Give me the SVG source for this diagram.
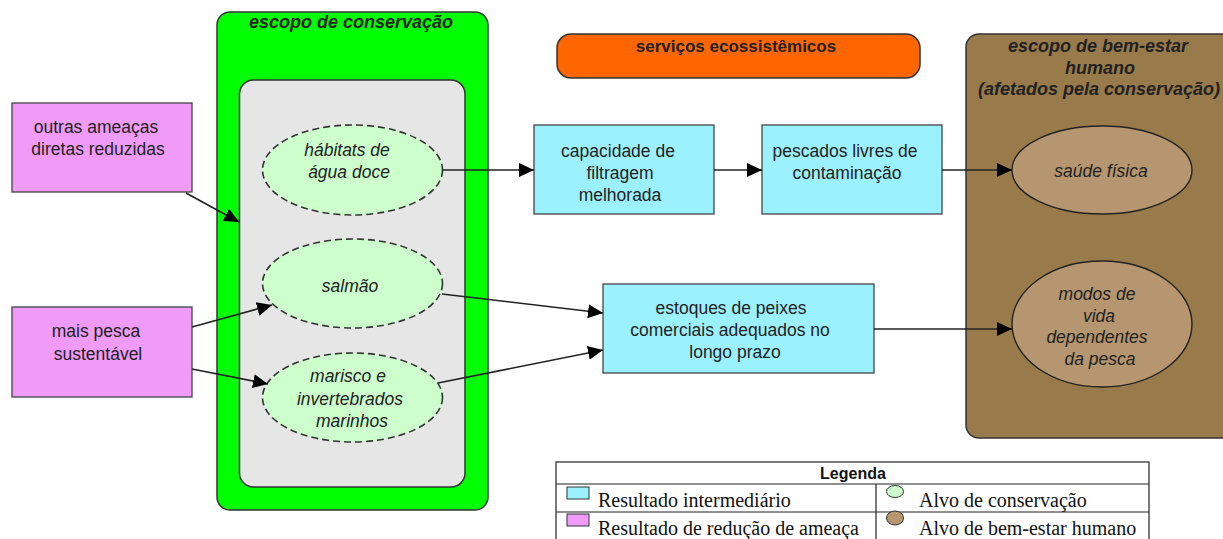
<svg xmlns="http://www.w3.org/2000/svg" width="1223" height="539" viewBox="0 0 1223 539">
<style>
text{font-family:"Liberation Sans",Arial,sans-serif;fill:#222;}
.body{font-size:17.5px;text-anchor:middle;}
.it{font-size:17.5px;font-style:italic;text-anchor:middle;}
.title{font-size:18px;font-weight:bold;font-style:italic;text-anchor:middle;}
.pink{fill:#F19BF9;stroke:#444;stroke-width:1.3;}
.cyan{fill:#9CF1FE;stroke:#444;stroke-width:1.3;}
.cons{fill:#CCFFCC;stroke:#333;stroke-width:1.6;stroke-dasharray:7 4;}
.hw{fill:#B59670;stroke:#222;stroke-width:1.4;}
.conn line{stroke:#222;stroke-width:1.6;marker-end:url(#arr);}
.leg{font-family:"Liberation Serif","Times New Roman",serif;font-size:20px;fill:#111;}
</style>
<defs>
<marker id="arr" markerUnits="userSpaceOnUse" markerWidth="16" markerHeight="16" refX="15" refY="8" orient="auto">
<path d="M0,1 L15,8 L0,15 Z" fill="#000"/>
</marker>
</defs>
<rect width="1223" height="539" fill="#fff"/>

<g id="scope-conservation">
<rect x="217" y="12" width="271" height="498" rx="13" fill="#00FF00" stroke="#333" stroke-width="1.5"/>
<text class="title" x="351" y="28">escopo de conservação</text>
<rect x="239.5" y="80" width="225.5" height="407" rx="14" fill="#E6E6E6" stroke="#333" stroke-width="1.5"/>
</g>

<g id="ecosystem-services">
<rect x="557" y="34" width="363" height="44" rx="14" fill="#FF6600" stroke="#333" stroke-width="1.5"/>
<text x="736" y="52" style="font-size:17px;font-weight:bold;text-anchor:middle">serviços ecossistêmicos</text>
</g>

<g id="scope-wellbeing">
<rect x="966" y="34" width="280" height="404" rx="13" fill="#997A4A" stroke="#333" stroke-width="1.5"/>
<text class="title" x="1098" y="52">escopo de bem-estar</text>
<text class="title" x="1100" y="74">humano</text>
<text class="title" x="1099" y="95">(afetados pela conservação)</text>
</g>

<g id="node-outras">
<rect class="pink" x="12" y="103" width="180" height="89"/>
<text class="body" x="96" y="133">outras ameaças</text>
<text class="body" x="98" y="155">diretas reduzidas</text>
</g>

<g id="node-mais-pesca">
<rect class="pink" x="12" y="307" width="180" height="90"/>
<text class="body" x="96" y="337">mais pesca</text>
<text class="body" x="98" y="360">sustentável</text>
</g>

<g id="node-habitats">
<ellipse class="cons" cx="352.5" cy="170" rx="90" ry="45"/>
<text class="it" x="347" y="156">hábitats de</text>
<text class="it" x="349" y="178">água doce</text>
</g>

<g id="node-salmao">
<ellipse class="cons" cx="352.5" cy="283.5" rx="90" ry="44.5"/>
<text class="it" x="350" y="292">salmão</text>
</g>

<g id="node-marisco">
<ellipse class="cons" cx="352.5" cy="397.5" rx="90" ry="44.5"/>
<text class="it" x="348" y="382">marisco e</text>
<text class="it" x="350" y="405">invertebrados</text>
<text class="it" x="352" y="427">marinhos</text>
</g>

<g id="node-capacidade">
<rect class="cyan" x="534" y="125" width="180" height="89"/>
<text class="body" x="618" y="157">capacidade de</text>
<text class="body" x="620" y="179">filtragem</text>
<text class="body" x="620" y="201">melhorada</text>
</g>

<g id="node-pescados">
<rect class="cyan" x="762" y="125" width="180" height="89"/>
<text class="body" x="845" y="157">pescados livres de</text>
<text class="body" x="847" y="179">contaminação</text>
</g>

<g id="node-estoques">
<rect class="cyan" x="603" y="284" width="271" height="89"/>
<text class="body" x="731" y="314">estoques de peixes</text>
<text class="body" x="730" y="336">comerciais adequados no</text>
<text class="body" x="735" y="358">longo prazo</text>
</g>

<g id="node-saude">
<ellipse class="hw" cx="1102" cy="170" rx="90" ry="44"/>
<text class="it" x="1101" y="177">saúde física</text>
</g>

<g id="node-modos">
<ellipse class="hw" cx="1102" cy="324" rx="90" ry="63"/>
<text class="it" x="1097" y="300">modos de</text>
<text class="it" x="1099" y="322">vida</text>
<text class="it" x="1097" y="343">dependentes</text>
<text class="it" x="1100" y="365">da pesca</text>
</g>

<g id="connectors" class="conn">
<line x1="186" y1="193" x2="239" y2="222"/>
<line x1="443" y1="170" x2="534" y2="170"/>
<line x1="714" y1="170" x2="762" y2="170"/>
<line x1="942" y1="170" x2="1012" y2="170"/>
<line x1="192" y1="327" x2="272" y2="305"/>
<line x1="192" y1="369" x2="268" y2="384"/>
<line x1="442" y1="294" x2="603" y2="313"/>
<line x1="438" y1="383" x2="603" y2="350"/>
<line x1="874" y1="329" x2="1012" y2="329"/>
</g>

<g id="legend">
<rect x="556" y="462" width="593" height="90" fill="#fff" stroke="#222" stroke-width="1.2"/>
<line x1="556" y1="484" x2="1149" y2="484" stroke="#222" stroke-width="1.2"/>
<line x1="556" y1="512" x2="1149" y2="512" stroke="#222" stroke-width="1.2"/>
<line x1="876" y1="484" x2="876" y2="552" stroke="#222" stroke-width="1.2"/>
<text x="853" y="479" style="font-size:16px;font-weight:bold;text-anchor:middle;fill:#111">Legenda</text>
<rect x="567" y="487" width="22" height="12" fill="#9CF1FE" stroke="#333" stroke-width="1"/>
<text class="leg" x="598" y="507">Resultado intermediário</text>
<rect x="567" y="514" width="22" height="12" fill="#F19BF9" stroke="#333" stroke-width="1"/>
<text class="leg" x="598" y="535">Resultado de redução de ameaça</text>
<ellipse cx="895" cy="491.5" rx="8.5" ry="6" fill="#CCFFCC" stroke="#333" stroke-width="1"/>
<text class="leg" x="919" y="507">Alvo de conservação</text>
<ellipse cx="895" cy="518" rx="8.5" ry="7" fill="#B59670" stroke="#333" stroke-width="1"/>
<text class="leg" x="919" y="535">Alvo de bem-estar humano</text>
</g>
</svg>
